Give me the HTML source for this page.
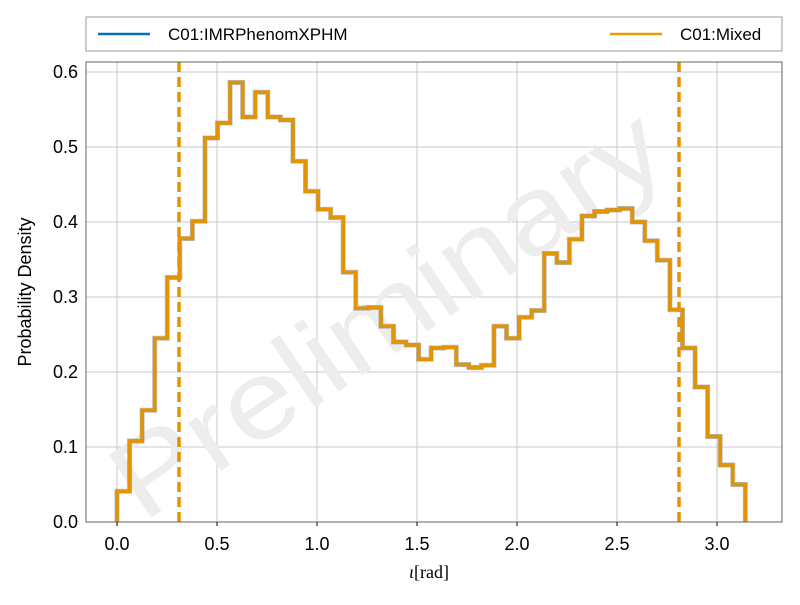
<!DOCTYPE html>
<html><head><meta charset="utf-8"><style>
body{margin:0;background:#fff;font-family:"Liberation Sans",sans-serif;}
</style></head><body>
<svg id="chart" width="800" height="600" xmlns="http://www.w3.org/2000/svg">
<rect x="0" y="0" width="800" height="600" fill="#fff"/>
<g id="grid"></g>
<text x="390" y="350" font-size="110" fill="#ededed" text-anchor="middle" textLength="640" lengthAdjust="spacingAndGlyphs" transform="rotate(-34 390 318)">Preliminary</text>
<g id="marks"></g>
<rect x="86" y="62" width="696" height="460" fill="none" stroke="#666" stroke-width="1"/>
<g id="ticks" font-size="18" fill="#000"></g>
<text x="31" y="292" font-size="18" text-anchor="middle" transform="rotate(-90 31 292)">Probability Density</text>
<text x="429" y="578" font-size="18" font-family="Liberation Serif,serif" text-anchor="middle"><tspan font-style="italic">ι</tspan>[rad]</text>
<g>
<rect x="86" y="17" width="696" height="34" fill="#fff" stroke="#999" stroke-width="1"/>
<line x1="98" y1="34" x2="150" y2="34" stroke="#0072b2" stroke-width="2.5"/>
<text x="168" y="40" font-size="17">C01:IMRPhenomXPHM</text>
<line x1="610" y1="34" x2="662" y2="34" stroke="#e69f00" stroke-width="2.5"/>
<text x="680" y="40" font-size="17">C01:Mixed</text>
</g>
</svg>
<script>
const densities = [0.041,0.108,0.149,0.245,0.326,0.378,0.401,0.512,0.532,0.586,0.540,0.573,0.540,0.536,0.481,0.441,0.417,0.406,0.333,0.285,0.286,0.261,0.240,0.236,0.217,0.232,0.233,0.210,0.206,0.209,0.261,0.245,0.273,0.282,0.358,0.346,0.377,0.408,0.414,0.416,0.418,0.400,0.375,0.349,0.283,0.232,0.180,0.114,0.076,0.050];
const binStart = 0;
const binEnd = Math.PI;
const credibleBounds = [0.31, 2.81];
const xTicks = [0.0,0.5,1.0,1.5,2.0,2.5,3.0];
const yTicks = [0.0,0.1,0.2,0.3,0.4,0.5,0.6];
const X = v => 117 + v*200;
const Y = v => 522 - v*750;
const NS = "http://www.w3.org/2000/svg";
const grid = document.getElementById('grid'), ticks = document.getElementById('ticks'), marks = document.getElementById('marks');
function mk(tag, attrs, parent){const e=document.createElementNS(NS,tag);for(const k in attrs)e.setAttribute(k,attrs[k]);parent.appendChild(e);return e;}
xTicks.forEach(t=>{
  const g=mk('line',{x1:X(t),x2:X(t),y1:62,y2:522,stroke:'#c8c8c8','stroke-width':1},grid);
  
  
  const tk=mk('line',{x1:X(t),x2:X(t),y1:522,y2:526,stroke:'#000'},ticks);
  
  
  const l=mk('text',{x:X(t),y:550,'text-anchor':'middle'},ticks);l.textContent=t.toFixed(1);
  
  
});
yTicks.forEach(t=>{
  const g=mk('line',{x1:86,x2:782,y1:Y(t),y2:Y(t),stroke:'#c8c8c8','stroke-width':1},grid);
  
  
  const l=mk('text',{x:78,y:Y(t)+6,'text-anchor':'end'},ticks);l.textContent=t.toFixed(1);
  
  
});
const w=(binEnd-binStart)/densities.length;
let d=`M${X(binStart)},${Y(0)}`;
densities.forEach((v,i)=>{d+=` L${X(binStart+i*w)},${Y(v)} L${X(binStart+(i+1)*w)},${Y(v)}`;});
d+=` L${X(binEnd)},${Y(0)}`;
const p1=mk('path',{d:d,fill:'none',stroke:'#0072b2','stroke-width':3.5},marks);


const p3=mk('path',{d:d,fill:'none',stroke:'#999','stroke-width':5,opacity:0.6},marks);


const p2=mk('path',{d:d,fill:'none',stroke:'#e39400','stroke-width':3.5},marks);


credibleBounds.forEach(b=>{
  const l=mk('line',{x1:X(b),x2:X(b),y1:62,y2:522,stroke:'#e39400','stroke-width':3.5,'stroke-dasharray':'10,5'},marks);
  
  
});
</script>
</body></html>
